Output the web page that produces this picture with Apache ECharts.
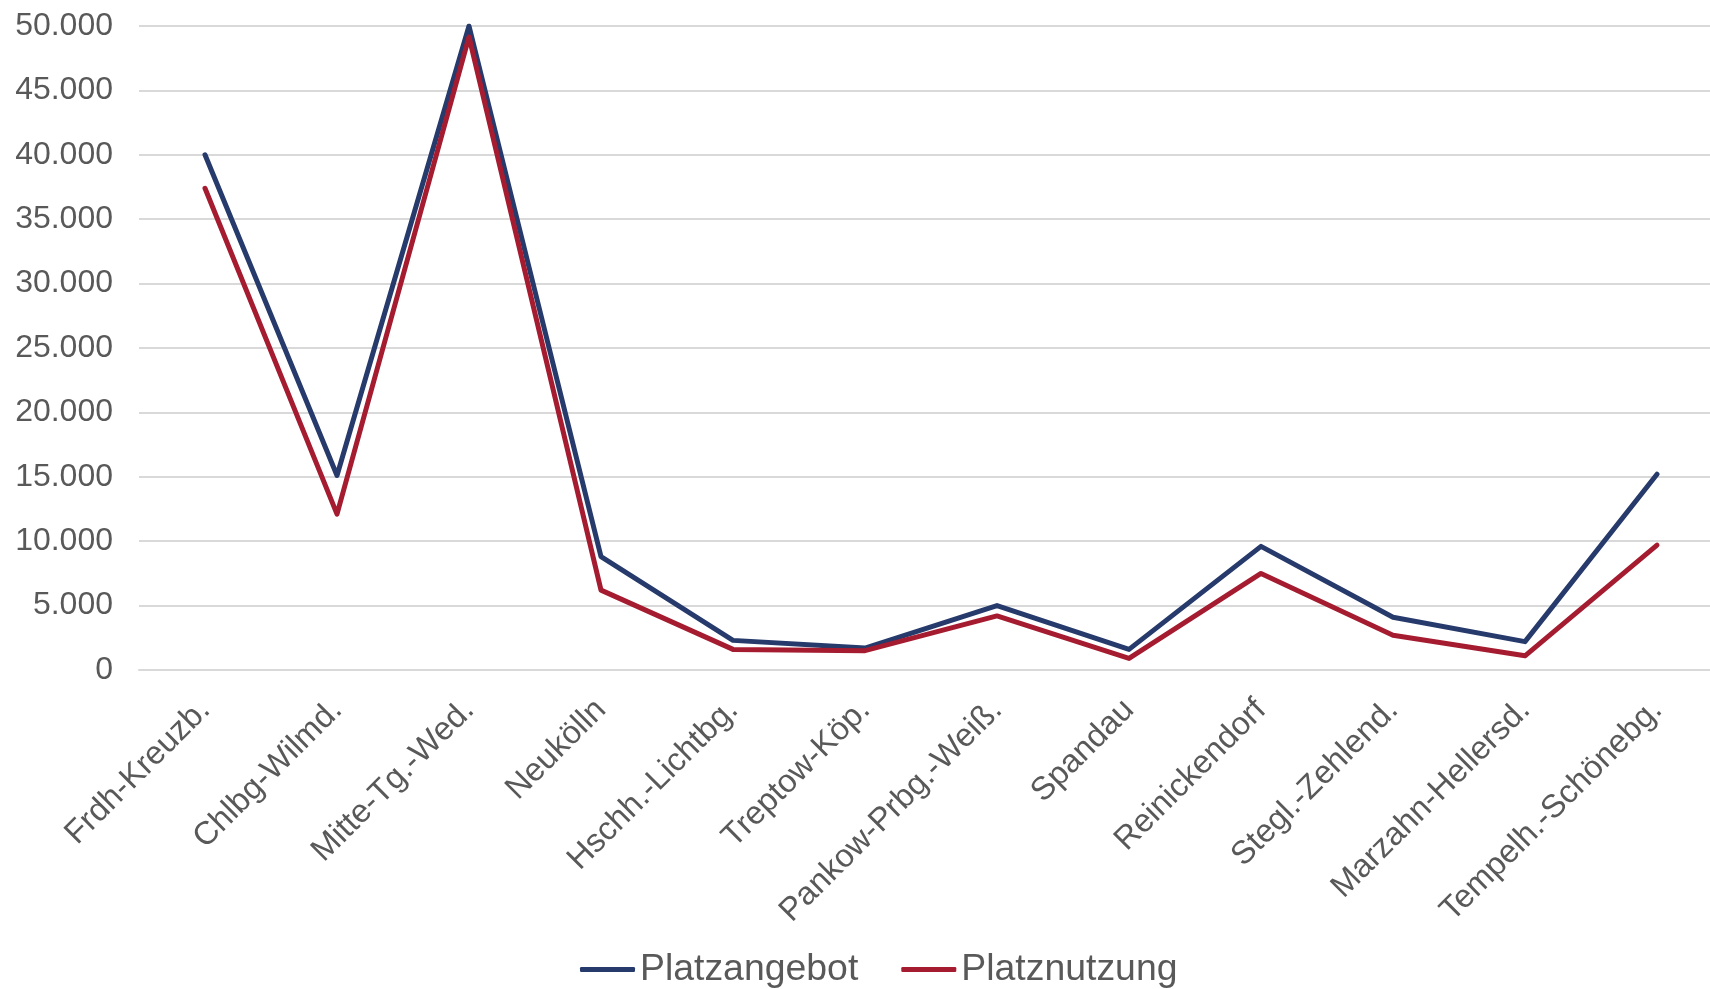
<!DOCTYPE html>
<html>
<head>
<meta charset="utf-8">
<script src="https://cdn.jsdelivr.net/npm/echarts@6/dist/echarts.min.js"></script>
<style>
html,body{margin:0;padding:0;background:#fff;overflow:hidden;}
#chart{width:1723px;height:989px;}
</style>
</head>
<body>
<div id="chart"></div>
<script>
const categories = ["Frdh-Kreuzb.", "Chlbg-Wilmd.", "Mitte-Tg.-Wed.", "Neukölln", "Hschh.-Lichtbg.", "Treptow-Köp.", "Pankow-Prbg.-Weiß.", "Spandau", "Reinickendorf", "Stegl.-Zehlend.", "Marzahn-Hellersd.", "Tempelh.-Schönebg."];
const platzangebot = [40000, 15100, 50000, 8800, 2300, 1700, 5000, 1600, 9600, 4100, 2200, 15200];
const platznutzung = [37400, 12100, 49150, 6200, 1600, 1500, 4200, 900, 7500, 2700, 1100, 9700];
const seriesNames = ["Platzangebot", "Platznutzung"];

function fmt(v) {
  return String(v).replace(/\B(?=(\d{3})+(?!\d))/g, '.');
}

const chart = echarts.init(document.getElementById('chart'), null, {renderer: 'canvas'});
chart.setOption({
  animation: false,
  backgroundColor: '#ffffff',
  textStyle: {fontFamily: 'Liberation Sans, Arial, sans-serif'},
  grid: {left: 139, right: 0, top: 26, bottom: 319, containLabel: false},
  legend: {
    left: 575,
    top: 946,
    icon: 'roundRect',
    itemWidth: 55,
    itemHeight: 5,
    itemGap: 43,
    textStyle: {fontSize: 37.4, color: '#595959', fontFamily: 'Liberation Sans, Arial, sans-serif'},
    data: seriesNames
  },
  xAxis: {
    type: 'category',
    data: categories,
    boundaryGap: true,
    axisLine: {show: true, lineStyle: {color: '#d9d9d9', width: 2}},
    axisTick: {show: false},
    axisLabel: {rotate: 45, fontSize: 32.5, color: '#595959', margin: 35, interval: 0, fontFamily: 'Liberation Sans, Arial, sans-serif'}
  },
  yAxis: {
    type: 'value',
    min: 0,
    max: 50000,
    interval: 5000,
    axisLine: {show: false},
    axisTick: {show: false},
    splitLine: {lineStyle: {color: '#d9d9d9', width: 2}},
    axisLabel: {fontSize: 32, color: '#595959', margin: 26, formatter: fmt, fontFamily: 'Liberation Sans, Arial, sans-serif'}
  },
  series: [
    {name: seriesNames[0], type: 'line', data: platzangebot, symbol: 'none', lineStyle: {color: '#263a6b', width: 5, cap: 'round', join: 'round'}, itemStyle: {color: '#263a6b'}},
    {name: seriesNames[1], type: 'line', data: platznutzung, symbol: 'none', lineStyle: {color: '#a51c30', width: 5, cap: 'round', join: 'round'}, itemStyle: {color: '#a51c30'}}
  ]
});
</script>
</body>
</html>
